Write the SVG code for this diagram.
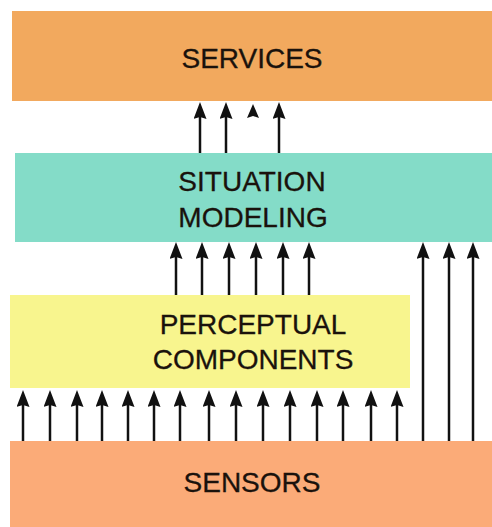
<svg xmlns="http://www.w3.org/2000/svg" width="492" height="527" viewBox="0 0 492 527">
<defs>
<style>
.lbl{font-family:"Liberation Sans",Arial,sans-serif;font-size:28px;fill:#1a120c;stroke:#1a120c;stroke-width:0.3;text-anchor:middle}
.sh{stroke:#111;stroke-width:2.5;fill:none}
.hd{fill:#111}
</style>
<marker id="ah" viewBox="0 0 17 13" refX="6" refY="6.5" markerWidth="17" markerHeight="13" markerUnits="userSpaceOnUse" orient="auto">
<path d="M17 6.5 L0 0 L2 6.5 L0 13 Z" fill="#111"/>
</marker>
</defs>
<rect width="492" height="527" fill="#fff"/>
<g id="services">
<rect x="12" y="11" width="480" height="90" fill="#f2a95e"/>
<text class="lbl" x="252" y="68">SERVICES</text>
</g>
<g id="situation">
<rect x="15" y="153" width="477" height="89" fill="#84dcc8"/>
<text class="lbl" x="252" y="191">SITUATION</text>
<text class="lbl" x="253" y="227">MODELING</text>
</g>
<g id="perceptual">
<rect x="10" y="295" width="400" height="93" fill="#f8f58e"/>
<text class="lbl" x="253" y="334">PERCEPTUAL</text>
<text class="lbl" x="253" y="369">COMPONENTS</text>
</g>
<g id="sensors">
<rect x="10" y="441" width="482" height="86" fill="#fbab78"/>
<text class="lbl" x="252" y="492">SENSORS</text>
</g>
<g id="connectors">
<g class="sh" marker-end="url(#ah)">
<path d="M200 153V113"/><path d="M226 153V113"/><path d="M279 153V113"/>
<path d="M176 295V253"/><path d="M202 295V253"/><path d="M229 295V253"/><path d="M256 295V253"/><path d="M283 295V253"/><path d="M309 295V253"/>
<path d="M423 441V253"/><path d="M449 441V253"/><path d="M473 441V253"/>
<path d="M23 441V401"/><path d="M50 441V401"/><path d="M77 441V401"/><path d="M102 441V401"/><path d="M128 441V401"/><path d="M154 441V401"/><path d="M180 441V401"/><path d="M209 441V401"/><path d="M236 441V401"/><path d="M263 441V401"/><path d="M290 441V401"/><path d="M317 441V401"/><path d="M343 441V401"/><path d="M371 441V401"/><path d="M397 441V401"/>
</g>
<path class="hd" d="M253 104 L259 118 L253 116 L247 118 Z"/>
</g>
</svg>
